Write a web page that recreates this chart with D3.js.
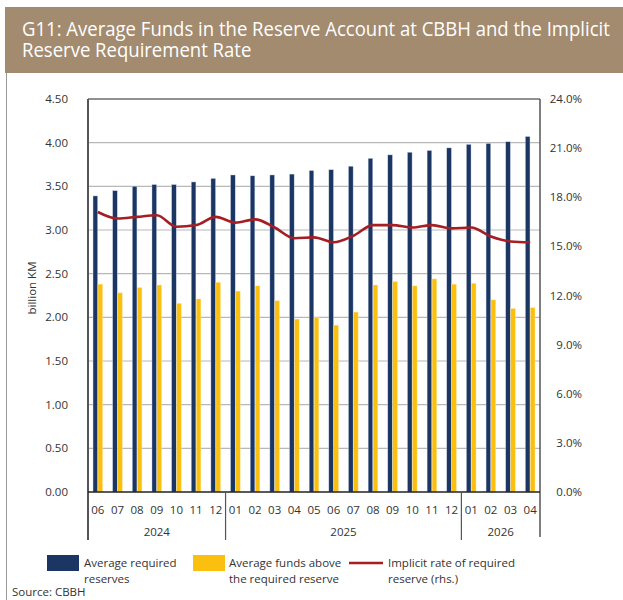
<!DOCTYPE html>
<meta charset="utf-8">
<style>
  body { margin: 0; background: #fff; }
  text { font-family: "Open Sans", "Noto Sans", sans-serif; fill: #333; }
  .title { fill: #fff; font-size: 19.5px; }
</style>
<body>
<script src="https://d3js.org/d3.v7.min.js"></script>
<script>
// data
var months = ["06","07","08","09","10","11","12",
              "01","02","03","04","05","06","07","08","09","10","11","12",
              "01","02","03","04"];
var years = [{label: "2024", n: 7}, {label: "2025", n: 12}, {label: "2026", n: 4}];
var required = [3.39,3.45,3.50,3.52,3.52,3.55,3.59,3.63,3.62,3.63,3.64,3.68,3.69,3.73,
                3.82,3.86,3.89,3.91,3.94,3.98,3.99,4.01,4.07];
var above = [2.38,2.28,2.34,2.37,2.16,2.21,2.40,2.30,2.36,2.19,1.98,2.00,1.91,2.06,
             2.37,2.41,2.36,2.44,2.38,2.39,2.20,2.10,2.11];
var rate = [17.1,16.7,16.8,16.9,16.2,16.3,16.8,16.45,16.65,16.15,15.5,15.55,15.25,15.65,
            16.3,16.3,16.15,16.3,16.1,16.15,15.6,15.3,15.25];
var leftTicks = d3.range(0, 4.51, 0.5);
var rightTicks = d3.range(0, 24.1, 3);

var W = 623, H = 600;
var svg = d3.select("body").append("svg").attr("width", W).attr("height", H);

// title banner
svg.append("rect").attr("x", 5).attr("y", 7).attr("width", W - 5).attr("height", 66)
   .attr("fill", "#a38b6f");
svg.append("line").attr("x1", 6.5).attr("x2", 6.5).attr("y1", 73).attr("y2", H)
   .attr("stroke", "#999").attr("stroke-width", 1);
var tg = svg.append("g");
var t1 = tg.append("text").attr("class", "title").attr("x", 0).attr("y", 36)
   .text("G11: Average Funds in the Reserve Account at CBBH and the Implicit");
tg.append("text").attr("class", "title").attr("x", 0).attr("y", 57)
   .text("Reserve Requirement Rate");
var sx = Math.min(1, 588 / t1.node().getComputedTextLength());
tg.attr("transform", "translate(22,0) scale(" + sx + ",1)");

var m = {left: 88, right: 540, top: 99, bottom: 492};
var x = d3.scaleBand().domain(d3.range(months.length)).range([m.left, m.right]);
var y = d3.scaleLinear().domain([0, 4.5]).range([m.bottom, m.top]);
var y2 = d3.scaleLinear().domain([0, 24]).range([m.bottom, m.top]);

// gridlines
svg.append("g").selectAll("line").data(leftTicks.slice(1, -1)).enter().append("line")
   .attr("x1", m.left).attr("x2", m.right)
   .attr("y1", function(d) { return y(d); }).attr("y2", function(d) { return y(d); })
   .attr("stroke", "#b8b8b8").attr("stroke-width", 1.2);

// bars
var bw = 4.6;
svg.append("g").selectAll("rect").data(required).enter().append("rect")
   .attr("x", function(d, i) { return x(i) + x.bandwidth() / 2 - bw - 0.2; })
   .attr("width", bw)
   .attr("y", function(d) { return y(d); })
   .attr("height", function(d) { return y(0) - y(d); })
   .attr("fill", "#1c3664")
   .attr("stroke", "#c9d3e3").attr("stroke-width", 0.4);
svg.append("g").selectAll("rect").data(above).enter().append("rect")
   .attr("x", function(d, i) { return x(i) + x.bandwidth() / 2 + 0.2; })
   .attr("width", bw)
   .attr("y", function(d) { return y(d); })
   .attr("height", function(d) { return y(0) - y(d); })
   .attr("fill", "#fbbf10")
   .attr("stroke", "#fde7a6").attr("stroke-width", 0.4);

// rate line
var line = d3.line()
   .x(function(d, i) { return x(i) + x.bandwidth() / 2; })
   .y(function(d) { return y2(d); })
   .curve(d3.curveMonotoneX);
svg.append("path").datum(rate).attr("d", line)
   .attr("fill", "none").attr("stroke", "#a41e24").attr("stroke-width", 2.6);

// frame
svg.append("line").attr("x1", m.left).attr("x2", m.right).attr("y1", m.top).attr("y2", m.top)
   .attr("stroke", "#222").attr("stroke-width", 1.2);
svg.append("line").attr("x1", m.left).attr("x2", m.left).attr("y1", m.top).attr("y2", 540)
   .attr("stroke", "#555").attr("stroke-width", 2);
svg.append("line").attr("x1", m.right).attr("x2", m.right).attr("y1", m.top).attr("y2", 537)
   .attr("stroke", "#555").attr("stroke-width", 1.5);
svg.append("line").attr("x1", m.left).attr("x2", m.right).attr("y1", m.bottom).attr("y2", m.bottom)
   .attr("stroke", "#222").attr("stroke-width", 1.5);

// left axis labels
svg.append("g").selectAll("text").data(leftTicks).enter().append("text")
   .attr("x", 68).attr("y", function(d) { return y(d) + 4; })
   .attr("text-anchor", "end").attr("font-size", 11.5)
   .text(function(d) { return d3.format(".2f")(d); });
svg.append("text").attr("transform", "translate(36,288) rotate(-90)")
   .attr("text-anchor", "middle").attr("font-size", 11.5).text("billion KM");

// right axis labels
svg.append("g").selectAll("text").data(rightTicks).enter().append("text")
   .attr("x", 582).attr("y", function(d) { return y2(d) + 4; })
   .attr("text-anchor", "end").attr("font-size", 11.5)
   .text(function(d) { return d3.format(".1f")(d) + "%"; });

// x axis labels
svg.append("g").selectAll("text").data(months).enter().append("text")
   .attr("x", function(d, i) { return x(i) + x.bandwidth() / 2; })
   .attr("y", 514).attr("text-anchor", "middle").attr("font-size", 11.5)
   .text(function(d) { return d; });
var start = 0;
years.forEach(function(yr, k) {
  var x0 = x(start), x1 = x(start + yr.n - 1) + x.bandwidth();
  svg.append("text").attr("x", (x0 + x1) / 2).attr("y", 536)
     .attr("text-anchor", "middle").attr("font-size", 11.5).text(yr.label);
  if (k > 0) {
    svg.append("line").attr("x1", x0).attr("x2", x0).attr("y1", m.bottom).attr("y2", 540)
       .attr("stroke", "#555").attr("stroke-width", 1.2);
  }
  start += yr.n;
});

// legend
var lg = svg.append("g");
lg.append("rect").attr("x", 47).attr("y", 555).attr("width", 32).attr("height", 16).attr("fill", "#1c3664");
lg.append("text").attr("x", 84).attr("y", 567).attr("font-size", 11.5).text("Average required");
lg.append("text").attr("x", 84).attr("y", 583).attr("font-size", 11.5).text("reserves");
lg.append("rect").attr("x", 193).attr("y", 555).attr("width", 32).attr("height", 16).attr("fill", "#fbbf10");
lg.append("text").attr("x", 229).attr("y", 567).attr("font-size", 11.5).text("Average funds above");
lg.append("text").attr("x", 229).attr("y", 583).attr("font-size", 11.5).text("the required reserve");
lg.append("line").attr("x1", 349).attr("x2", 383).attr("y1", 563).attr("y2", 563)
   .attr("stroke", "#a41e24").attr("stroke-width", 2.6);
lg.append("text").attr("x", 388).attr("y", 567).attr("font-size", 11.5).text("Implicit rate of required");
lg.append("text").attr("x", 388).attr("y", 583).attr("font-size", 11.5).text("reserve (rhs.)");
svg.append("text").attr("x", 12).attr("y", 596).attr("font-size", 11.5).text("Source: CBBH");
</script>
</body>
